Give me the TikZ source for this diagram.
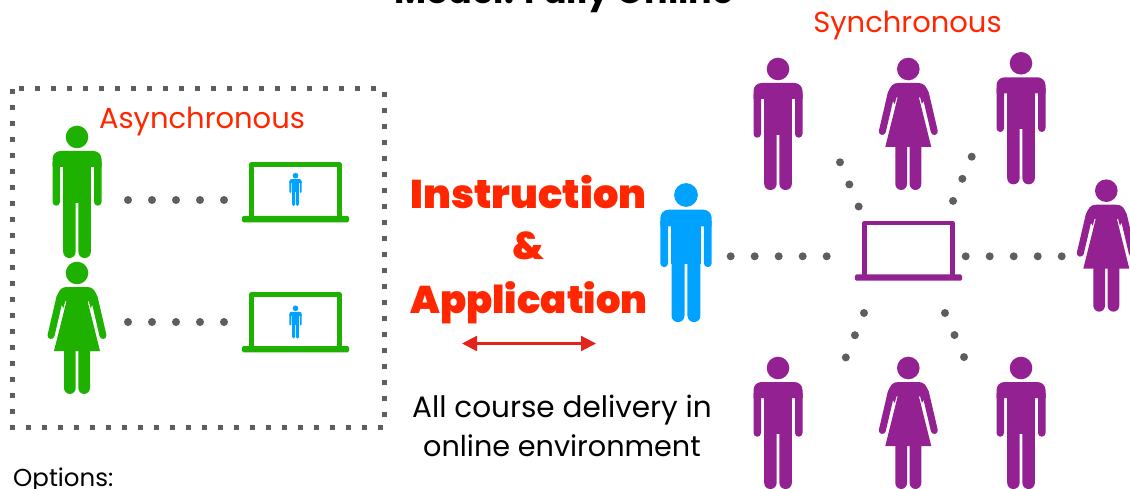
\documentclass[tikz,border=0pt]{standalone}
\usepackage{fontspec}
\setmainfont{Poppins}
\newfontfamily\heavyfont{Poppins Black}
\usetikzlibrary{arrows.meta}
\definecolor{figgreen}{HTML}{1FB100}
\definecolor{figpurple}{HTML}{932192}
\definecolor{figblue}{HTML}{00A2FF}
\definecolor{figred}{HTML}{FF2600}
\definecolor{figarrow}{HTML}{E3241B}
\definecolor{figgray}{HTML}{5E5E5E}
\tikzset{
  dotrow/.style={draw=figgray,line width=8pt,line cap=round,dash pattern=on 0pt off 24pt},
  lbl/.style={inner sep=0pt,anchor=center,align=center},
  pics/man/.style 2 args={code={
    \begin{scope}[scale=#2,fill=#1]
      \fill (0,0) circle[radius=11.3];
      \fill (-24.5,30) [rounded corners=#2*8pt] -- (-24.5,14) -- (24.5,14) [sharp corners] -- (24.5,30) -- cycle;
      \fill (-24.5,25) [rounded corners=#2*3.7pt] -- (-24.5,68.7) -- (-17,68.7) [sharp corners] -- (-17,25) -- cycle;
      \fill (17,25) [rounded corners=#2*3.7pt] -- (17,68.7) -- (24.5,68.7) [sharp corners] -- (24.5,25) -- cycle;
      \fill (-14,25) rectangle (14,66);
      \fill (-13.8,60) [rounded corners=#2*6pt] -- (-13.8,121) -- (-1.4,121) [sharp corners] -- (-1.4,60) -- cycle;
      \fill (1.4,60) [rounded corners=#2*6pt] -- (1.4,121) -- (13.8,121) [sharp corners] -- (13.8,60) -- cycle;
    \end{scope}
  }},
  pics/woman/.style={code={
    \fill[#1] (0,0) circle[radius=11.3];
    \draw[#1,line width=7pt,line cap=round] (-17,24) -- (-26,62.5);
    \draw[#1,line width=7pt,line cap=round] (17,24) -- (26,62.5);
    \fill[#1] (-10,40) -- (-20.4,25) .. controls (-18.5,17) and (-15.5,14) .. (-10,14) -- (10,14) .. controls (15.5,14) and (18.5,17) .. (20.4,25) -- (10,40) -- cycle;
    \draw[white,line width=1.5pt] (-11,28.5) -- (-21,66);
    \draw[white,line width=1.5pt] (11,28.5) -- (21,66);
    \fill[#1] (-10,26) -- (-23,78) -- (23,78) -- (10,26) -- cycle;
    \fill[#1] (-13,70) [rounded corners=6pt] -- (-13,121) -- (-1.3,121) [sharp corners] -- (-1.3,70) -- cycle;
    \fill[#1] (1.3,70) [rounded corners=6pt] -- (1.3,121) -- (13,121) [sharp corners] -- (13,70) -- cycle;
  }},
  pics/laptop/.style={code={
    \draw[#1,line width=4.7pt,line join=round] (-44,56) -- (-44,2.35) -- (44,2.35) -- (44,56);
    \fill[#1,rounded corners=1.5pt] (-53.6,53.7) rectangle (53.6,60);
  }}
}
\begin{document}
\begin{tikzpicture}[x=1pt,y=-1pt]
\clip (0,0) rectangle (1130,489);
% dotted box
\coordinate (boxa) at (12,89);
\coordinate (boxb) at (384,427);
\draw[figgray,line width=5pt,dash pattern=on 5pt off 11pt] (boxa) rectangle (boxb);
% texts
\node[inner sep=0pt,anchor=base,font=\bfseries\fontsize{35}{38}\selectfont] (title) at (564,4) {Model: Fully Online};
\node[lbl,text=figred,font=\fontsize{29}{32}\selectfont] (async) at (202,121.5) {Asynchronous};
\node[lbl,text=figred,font=\fontsize{29}{32}\selectfont] (sync) at (907.5,25.5) {Synchronous};
\node[lbl,text=figred,font=\heavyfont\fontsize{40}{44}\selectfont] (instr) at (528.5,192) {Instruction};
\node[lbl,text=figred,font=\heavyfont\fontsize{38.5}{42}\selectfont] (amp) at (528,246) {\&};
\node[lbl,text=figred,font=\heavyfont\fontsize{38.5}{42}\selectfont] (appl) at (529,303) {Application};
\node[lbl,font=\fontsize{29.5}{39.5}\selectfont] (deliv) at (562,426) {All course delivery in\\\fontsize{28.7}{39.5}\selectfont online environment};
\node[inner sep=0pt,anchor=west,font=\fontsize{24.5}{27}\selectfont] (opts) at (13,480) {Options:};
% arrow
\coordinate (arra) at (462,343.5);
\coordinate (arrb) at (596,343.5);
\draw[figarrow,line width=2.2pt,{Triangle[length=15pt,width=15pt]}-{Triangle[length=15pt,width=15pt]}] (arra) -- (arrb);
% asynchronous people
\pic (g1) at (77,137) {man={figgreen}{1}};
\pic (g2) at (77,273) {woman=figgreen};
\pic (l1) at (295.5,162.3) {laptop=figgreen};
\pic (l2) at (295.5,292.3) {laptop=figgreen};
\pic (b1) at (295.5,175.7) {man={figblue}{0.25}};
\pic (b2) at (295.5,308.3) {man={figblue}{0.25}};
\coordinate (d1a) at (128,200); \coordinate (d1b) at (224.5,200);
\coordinate (d2a) at (128,322); \coordinate (d2b) at (224.5,322);
\draw[dotrow] (d1a) -- (d1b);
\draw[dotrow] (d2a) -- (d2b);
% synchronous people
\pic (t1) at (686,195) {man={figblue}{1.05}};
\pic (p1) at (778,69) {man={figpurple}{1}};
\pic (p2) at (908.3,69) {woman=figpurple};
\pic (p3) at (1021,63.3) {man={figpurple}{1}};
\pic (p4) at (1106.3,190.7) {woman=figpurple};
\pic (p5) at (778,368) {man={figpurple}{1}};
\pic (p6) at (908.3,368) {woman=figpurple};
\pic (p7) at (1021,368) {man={figpurple}{1}};
\pic (l3) at (908.5,220.7) {laptop=figpurple};
\coordinate (d3a) at (730.7,256.3); \coordinate (d3b) at (827.2,256.3);
\coordinate (d4a) at (965.7,256.3); \coordinate (d4b) at (1062.2,256.3);
\coordinate (d5a) at (840,162.3); \coordinate (d5b) at (858.9,207.1);
\coordinate (d6a) at (971.7,156.7); \coordinate (d6b) at (952.8,201.5);
\coordinate (d7a) at (864,313); \coordinate (d7b) at (845.8,357.5);
\coordinate (d8a) at (945,313); \coordinate (d8b) at (964.2,357.5);
\foreach \u/\v in {d3a/d3b,d4a/d4b,d5a/d5b,d6a/d6b,d7a/d7b,d8a/d8b}
  \draw[dotrow] (\u) -- (\v);
\end{tikzpicture}
\end{document}
